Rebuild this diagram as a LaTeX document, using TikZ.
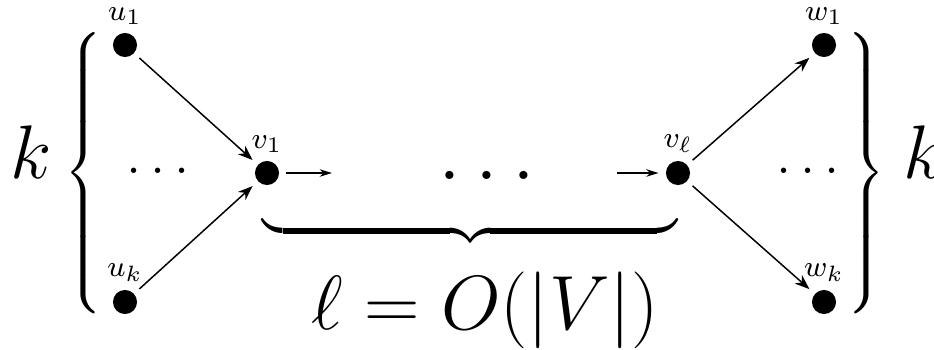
\RequirePackage{fix-cm}
\documentclass[tikz,border=0pt]{standalone}
\DeclareFontShape{OMX}{cmex}{m}{n}{<->cmex10}{}
\usetikzlibrary{arrows.meta}
\begin{document}
\begin{tikzpicture}[x=0.27pt,y=-0.27pt,
  vtx/.style={circle,fill=black,inner sep=0pt,minimum size=6.5pt,outer sep=2pt,label distance=0pt},
  lbl/.style={inner sep=0pt,font=\footnotesize},
  edge/.style={line width=0.4pt,-{Stealth[length=4pt,width=3pt,inset=1.3pt]}},
  sedge/.style={line width=0.4pt,-{Stealth[length=3.3pt,width=2pt,inset=1pt]}},
  sdots/.style={inner sep=0pt,font=\fontsize{15}{18}\selectfont},
  bdots/.style={inner sep=0pt,font=\fontsize{22.7}{27}\selectfont},
  big/.style={inner sep=0pt,font=\fontsize{20.5}{24}\selectfont},
  brc/.style={inner sep=0pt,font=\fontsize{11.5}{14}\selectfont},
  ubrc/.style={inner sep=0pt,font=\fontsize{12}{15}\selectfont}
]
\useasboundingbox (0,0) rectangle (934,349);
% vertices
\node[vtx,label={[lbl]above:$u_1$}] (u1) at (125,45) {};
\node[vtx,label={[lbl]above:$u_k$}] (uk) at (125,302) {};
\node[vtx,label={[lbl]above:$v_1$}] (v1) at (267,173) {};
\node[vtx,label={[lbl]above:$v_\ell$}] (vl) at (678,173) {};
\node[vtx,label={[lbl]above:$w_1$}] (w1) at (824,45) {};
\node[vtx,label={[lbl]above:$w_k$}] (wk) at (824,302) {};
% dots
\node[sdots] (ldots) at (158,171) {$\ldots$};
\node[sdots] (rdots) at (808,171) {$\ldots$};
\node[bdots] (mdots) at (487,175) {$\ldots$};
% free ends
\coordinate (a1) at (332,173);
\coordinate (a2) at (617,173);
% edges
\draw[edge] (u1) -- (v1);
\draw[edge] (uk) -- (v1);
\draw[edge] (vl) -- (w1);
\draw[edge] (vl) -- (wk);
\draw[sedge] (v1) -- (a1);
\draw[sedge] (a2) -- (vl);
% braces
\node[brc] (lb) at (83,173) {$\nulldelimiterspace=0pt\left\{\vcenter{\hbox{\vrule height 38.5pt depth 38.5pt width 0pt}}\right.$};
\node[brc] (rb) at (866,173) {$\nulldelimiterspace=0pt\left.\vcenter{\hbox{\vrule height 38.5pt depth 38.5pt width 0pt}}\right\}$};
\node[ubrc] (ub) at (470,231) {$\underbrace{\hspace{111.8pt}}$};
% big labels
\node[big,anchor=base] (kl) at (31,178) {$k$};
\node[big,anchor=base west] (kr) at (903,178) {$k$};
\node[inner sep=0pt,font=\huge,anchor=base] (len) at (485,329) {$\ell = O(|V|)$};
\end{tikzpicture}
\end{document}
